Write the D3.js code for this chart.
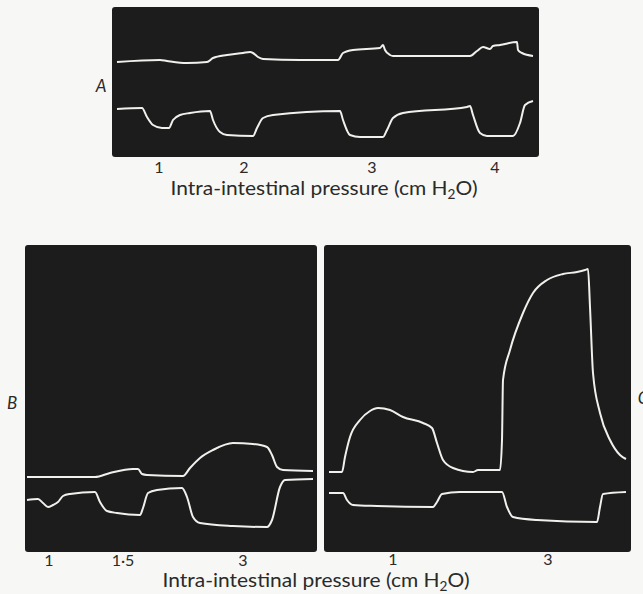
<!DOCTYPE html>
<html>
<head>
<meta charset="utf-8">
<script src="https://cdn.jsdelivr.net/npm/d3@7"></script>
<style>
  body { margin: 0; background: #f7f7f5; }
  svg { display: block; }
  text { font-family: Lato, "Open Sans", sans-serif; fill: #2a2a2a; }
</style>
</head>
<body>
<div id="chart"></div>
<script>
// Records (x = distance along record, y = deflection; arbitrary units)
var recordA_upper = [[5,95],[48,97],[55,96],[75,94],[95,95],[101,99],[115,102],[131,104],[138,105],[141,104],[146,100],[151,98],[188,97],[226,97],[231,104],[241,107],[268,109],[271,112],[273,107],[278,102],[281,101],[358,101],[365,106],[371,110],[378,108],[381,111],[388,112],[405,115],[406,107],[410,104],[421,101]];
var recordA_lower = [[5,48],[30,49],[35,40],[41,32],[50,29],[57,29],[61,37],[68,42],[78,44],[98,46],[101,37],[108,25],[115,22],[141,21],[145,29],[151,39],[161,42],[228,46],[231,37],[238,22],[248,20],[271,20],[275,27],[281,39],[291,44],[355,50],[358,51],[361,42],[368,24],[375,21],[401,21],[408,34],[413,52],[421,56]];

var recordB_upper = [[2,75],[70,75],[85,79],[108,83],[113,83],[117,78],[122,77],[158,76],[165,84],[175,94],[188,102],[208,109],[228,108],[242,105],[247,97],[252,85],[258,82],[288,81]];
var recordB_lower = [[2,52],[13,53],[18,49],[23,45],[28,47],[33,50],[38,56],[45,58],[70,60],[75,50],[82,41],[92,39],[115,37],[118,44],[123,59],[132,62],[157,64],[162,55],[168,35],[175,29],[208,26],[242,25],[247,32],[255,65],[260,72],[288,73]];

var recordC_upper = [[5,80],[18,80],[21,95],[26,115],[36,132],[46,141],[54,144],[66,142],[79,135],[99,129],[108,124],[113,109],[119,92],[129,84],[149,80],[154,82],[176,82],[178,112],[179,172],[186,202],[199,239],[209,259],[223,272],[239,278],[253,280],[261,282],[264,283],[266,245],[269,179],[276,139],[286,112],[296,97],[302,93]];
var recordC_lower = [[5,59],[19,59],[23,52],[29,47],[53,46],[109,45],[113,50],[118,58],[136,60],[178,60],[183,45],[189,35],[213,32],[273,30],[276,45],[279,58],[302,60]];

// Pressure marks (cm H2O) and where they sit along each record
var pressureA = ["1", "2", "3", "4"];
var pressureAPos = [47, 132, 260, 383];
var pressureB = ["1", "1\u00b75", "3"];
var pressureBPos = [24, 98, 218];
var pressureC = ["1", "3"];
var pressureCPos = [69, 224];

var axisTitle = "Intra-intestinal pressure (cm H";

var svg;

function init() {
    svg = d3.select("#chart").append("svg")
        .attr("width", 643)
        .attr("height", 594);

    drawPanel({ x0: 112, x1: 539, y0: 7, y1: 157, w: 427, h: 150 },
        [recordA_upper, recordA_lower], pressureA, pressureAPos, 173);
    drawPanel({ x0: 25, x1: 317, y0: 245, y1: 552, w: 292, h: 307 },
        [recordB_upper, recordB_lower], pressureB, pressureBPos, 566);
    drawPanel({ x0: 324, x1: 631, y0: 245, y1: 552, w: 307, h: 307 },
        [recordC_upper, recordC_lower], pressureC, pressureCPos, 565);

    drawTitle(324, 195);
    drawTitle(316, 587);

    // panel letters
    svg.append("text").attr("x", 101).attr("y", 92).attr("text-anchor", "middle")
        .style("font-style", "italic").style("font-size", "17px").text("A");
    svg.append("text").attr("x", 12).attr("y", 409).attr("text-anchor", "middle")
        .style("font-style", "italic").style("font-size", "17px").text("B");
    svg.append("text").attr("x", 643).attr("y", 404).attr("text-anchor", "middle")
        .style("font-style", "italic").style("font-size", "17px").text("C");
}

/**
 * Draws one dark record panel with its traces and pressure labels
 */
function drawPanel(box, records, labels, labelPos, labelY) {
    var x = d3.scaleLinear().domain([0, box.w]).range([box.x0, box.x1]);
    var y = d3.scaleLinear().domain([0, box.h]).range([box.y1, box.y0]);

    svg.append("rect")
        .attr("x", box.x0).attr("y", box.y0)
        .attr("width", box.x1 - box.x0).attr("height", box.y1 - box.y0)
        .attr("rx", 3)
        .attr("fill", "#1c1c1c");

    var line = d3.line()
        .x(function(d) { return x(d[0]); })
        .y(function(d) { return y(d[1]); })
        .curve(d3.curveMonotoneX);

    svg.append("g").selectAll("path")
        .data(records)
        .join("path")
        .attr("d", line)
        .attr("fill", "none")
        .attr("stroke", "#f0f0ec")
        .attr("stroke-width", 2)
        .attr("stroke-linejoin", "round");

    svg.append("g").selectAll("text")
        .data(labels)
        .join("text")
        .attr("x", function(d, i) { return x(labelPos[i]); })
        .attr("y", labelY)
        .attr("text-anchor", "middle")
        .style("font-size", "16px")
        .text(function(d) { return d; });
}

function drawTitle(cx, cy) {
    var t = svg.append("text")
        .attr("x", cx).attr("y", cy)
        .attr("text-anchor", "middle")
        .attr("textLength", 307)
        .attr("lengthAdjust", "spacingAndGlyphs")
        .style("font-size", "20px");
    t.append("tspan").text(axisTitle);
    t.append("tspan").attr("dy", 4).style("font-size", "13px").text("2");
    t.append("tspan").attr("dy", -4).text("O)");
}

init();
</script>
</body>
</html>
